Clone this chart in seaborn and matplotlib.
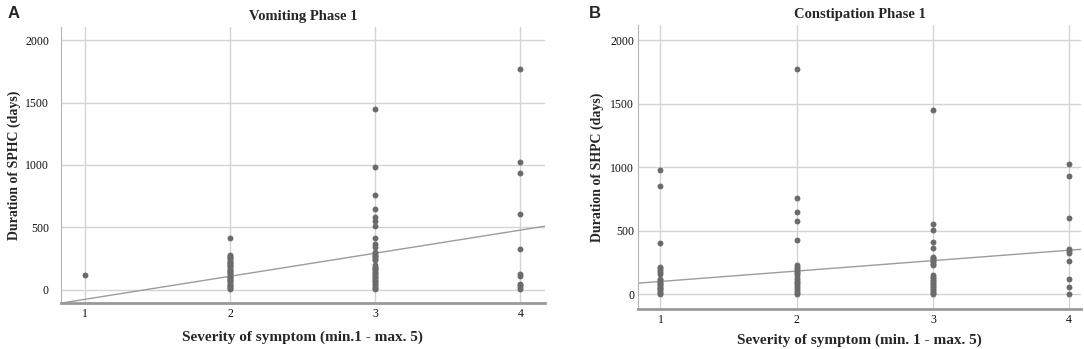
import matplotlib
matplotlib.use("Agg")
import matplotlib.pyplot as plt
import seaborn as sns
import pandas as pd

# ---- data ----
vom_sev1 = [115]
vom_sev2 = [410, 276, 268, 259, 250, 242, 233, 224, 214, 205, 196, 186, 177, 168, 158,
            149, 140, 131, 121, 112, 103, 94, 84, 75, 66, 57, 47, 38, 28, 19, 10, 2]
vom_sev3 = [1450, 981, 761, 646, 579, 549, 509, 413, 364, 343, 303, 292, 281, 270, 258,
            247, 236, 195, 185, 175, 164, 153, 143, 132, 121, 110, 100, 89, 78, 67, 57,
            46, 35, 24, 14, 4]
vom_sev4 = [1770, 1022, 933, 603, 327, 121, 112, 48, 35, 22, 8]

con_sev1 = [979, 855, 406, 217, 205, 190, 175, 160, 120, 110, 100, 90, 80, 70, 60, 50,
            40, 30, 20, 10, 2]
con_sev2 = [1776, 758, 648, 577, 430, 231, 218, 205, 192, 178, 165, 152, 130, 115, 100,
            85, 70, 55, 40, 25, 12, 2]
con_sev3 = [1454, 554, 509, 409, 367, 296, 285, 274, 263, 252, 241, 231, 152, 140, 128,
            116, 104, 92, 80, 68, 56, 44, 32, 20, 8, 0]
con_sev4 = [1026, 934, 601, 354, 338, 323, 265, 120, 57, 5]

# fit lines (intercept, slope)
vom_fit = (-263, 185)
con_fit = (19, 82)

titles = ["Vomiting Phase 1", "Constipation Phase 1"]
ylabels = ["Duration of SPHC (days)", "Duration of SHPC (days)"]
xlabels = ["Severity of symptom (min.1 - max. 5)", "Severity of symptom (min. 1 - max. 5)"]
letters = ["A", "B"]
xticks = [1, 2, 3, 4]
yticks = [0, 500, 1000, 1500, 2000]


def make_df(groups):
    xs, ys = [], []
    for sev, vals in zip(xticks, groups):
        xs += [sev] * len(vals)
        ys += vals
    return pd.DataFrame({"severity": xs, "duration": ys})


dfs = [make_df([vom_sev1, vom_sev2, vom_sev3, vom_sev4]),
       make_df([con_sev1, con_sev2, con_sev3, con_sev4])]
fits = [vom_fit, con_fit]

sns.set_theme(style="white")
plt.rcParams["font.family"] = ["Liberation Serif", "DejaVu Serif"]

fig = plt.figure(figsize=(10.84, 3.49), dpi=100)
rects = [[0.0560, 0.1318, 0.4468, 0.791],
         [0.5883, 0.1138, 0.4093, 0.8146]]
xlims = [(0.83, 4.17), (0.833, 4.09)]
ylims = [(-108, 2108), (-118, 2120)]
letter_pos = [(0.007, 0.983), (0.543, 0.983)]
ytick_pads = [8.5, 2.5]
ylabel_pads = [3, 4.5]
xlabel_pads = [8, 5]

grid_c = "#d4d4d4"
dot_c = "#6b6b6b"
line_c = "#9c9c9c"

for i in range(2):
    ax = fig.add_axes(rects[i])
    ax.set_axisbelow(True)
    for v in xticks:
        ax.axvline(v, color=grid_c, lw=1.0, zorder=0)
    for v in yticks:
        ax.axhline(v, color=grid_c, lw=1.0, zorder=0)
    sns.scatterplot(data=dfs[i], x="severity", y="duration", ax=ax, color=dot_c,
                    s=18, linewidth=0, zorder=3)
    b0, b1 = fits[i]
    ax.axline((0, b0), slope=b1, color=line_c, lw=1.0, zorder=2)
    ax.set_xlim(*xlims[i])
    ax.set_ylim(*ylims[i])
    ax.set_xticks(xticks)
    ax.set_yticks(yticks)
    ax.tick_params(axis="x", length=0, labelsize=8.5, colors="#111111", pad=3.5)
    ax.tick_params(axis="y", length=0, labelsize=8.5, colors="#111111", pad=ytick_pads[i])
    ax.set_title(titles[i], fontsize=10.5, fontweight="bold", pad=5)
    ax.set_xlabel(xlabels[i], fontsize=11, fontweight="bold", labelpad=xlabel_pads[i])
    ax.set_ylabel(ylabels[i], fontsize=10, fontweight="bold", labelpad=ylabel_pads[i])
    for s in ["top", "right"]:
        ax.spines[s].set_visible(False)
    ax.spines["left"].set_color("#b5b5b5")
    ax.spines["left"].set_linewidth(0.8)
    ax.spines["bottom"].set_color("#999999")
    ax.spines["bottom"].set_linewidth(2.0)
    fig.text(letter_pos[i][0], letter_pos[i][1], letters[i], fontsize=12,
             fontweight="bold", family=["Liberation Sans", "DejaVu Sans"],
             va="top", ha="left")

fig.savefig("out.png", dpi=100)
